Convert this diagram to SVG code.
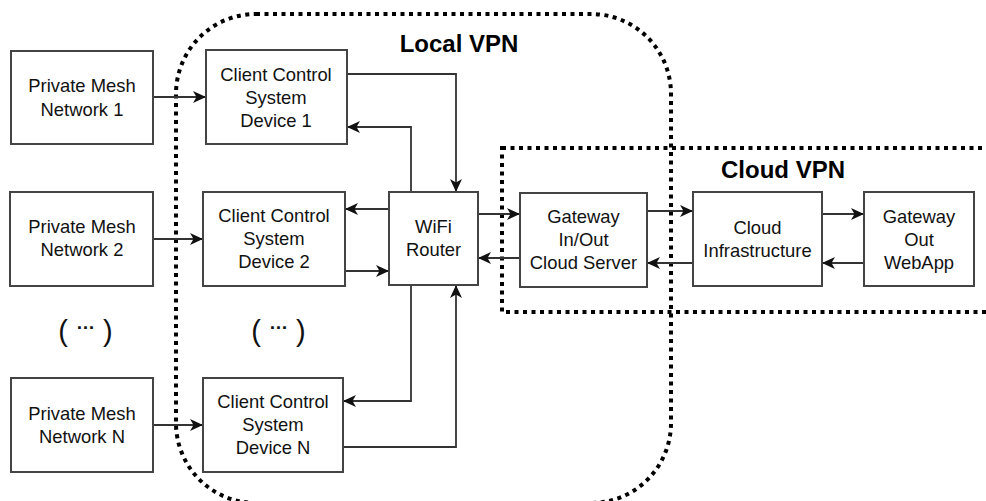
<svg xmlns="http://www.w3.org/2000/svg" width="986" height="501" viewBox="0 0 986 501">
<defs>
<style>
.box{fill:#fff;stroke:#444;stroke-width:2}
.lbl{font-family:"Liberation Sans",Arial,sans-serif;font-size:18.4px;fill:#111;text-anchor:middle}
.title{font-family:"Liberation Sans",Arial,sans-serif;font-size:24px;font-weight:bold;fill:#000;text-anchor:middle}
.vpn{fill:none;stroke:#000;stroke-width:4;stroke-dasharray:4 4.5}
.edge{fill:none;stroke:#333;stroke-width:1.8}
.dots{font-family:"Liberation Sans",Arial,sans-serif;font-size:29px;fill:#111;text-anchor:middle}
.ell{font-size:19px;font-weight:bold}
</style>
<marker id="arr" markerUnits="userSpaceOnUse" markerWidth="14" markerHeight="13" refX="13" refY="6.5" orient="auto">
<path d="M0,0.5 L13,6.5 L0,12.5 L3.5,6.5 Z" fill="#111"/>
</marker>
</defs>
<rect width="986" height="501" fill="#fff"/>

<g id="local-vpn">
<rect class="vpn" x="176" y="14" width="495" height="489" rx="80" ry="80"/>
<text class="title" x="459" y="52">Local VPN</text>
</g>
<g id="cloud-vpn">
<rect class="vpn" x="502" y="148" width="500" height="164"/>
<text class="title" x="783" y="178">Cloud VPN</text>
</g>

<g id="connectors">
<path class="edge" marker-end="url(#arr)" d="M153,97 L206,97"/>
<path class="edge" marker-end="url(#arr)" d="M153,239 L203,239"/>
<path class="edge" marker-end="url(#arr)" d="M153,425 L203,425"/>
<path class="edge" marker-end="url(#arr)" d="M347,74 L456,74 L456,192"/>
<path class="edge" marker-end="url(#arr)" d="M411,192 L411,127 L347,127"/>
<path class="edge" marker-end="url(#arr)" d="M389,209 L345,209"/>
<path class="edge" marker-end="url(#arr)" d="M345,271 L389,271"/>
<path class="edge" marker-end="url(#arr)" d="M411,285 L411,401 L343,401"/>
<path class="edge" marker-end="url(#arr)" d="M343,447 L456,447 L456,285"/>
<path class="edge" marker-end="url(#arr)" d="M478,214 L520,214"/>
<path class="edge" marker-end="url(#arr)" d="M520,258 L478,258"/>
<path class="edge" marker-end="url(#arr)" d="M647,211 L693,211"/>
<path class="edge" marker-end="url(#arr)" d="M693,263 L647,263"/>
<path class="edge" marker-end="url(#arr)" d="M822,214 L864,214"/>
<path class="edge" marker-end="url(#arr)" d="M864,263 L822,263"/>
</g>

<g id="pmn1">
<rect class="box" x="11" y="51" width="142" height="93"/>
<text class="lbl"><tspan x="82" y="92">Private Mesh</tspan><tspan x="82" y="116">Network 1</tspan></text>
</g>
<g id="pmn2">
<rect class="box" x="10" y="192" width="143" height="94"/>
<text class="lbl"><tspan x="82" y="233">Private Mesh</tspan><tspan x="82" y="256">Network 2</tspan></text>
</g>
<g id="pmnN">
<rect class="box" x="11" y="378" width="142" height="94"/>
<text class="lbl"><tspan x="82" y="420">Private Mesh</tspan><tspan x="82" y="443">Network N</tspan></text>
</g>
<g id="ccs1">
<rect class="box" x="206" y="50" width="141" height="94"/>
<text class="lbl"><tspan x="276" y="81">Client Control</tspan><tspan x="276" y="104">System</tspan><tspan x="276" y="127">Device 1</tspan></text>
</g>
<g id="ccs2">
<rect class="box" x="203" y="192" width="142" height="94"/>
<text class="lbl"><tspan x="274" y="222">Client Control</tspan><tspan x="274" y="245">System</tspan><tspan x="274" y="268">Device 2</tspan></text>
</g>
<g id="ccsN">
<rect class="box" x="203" y="378" width="140" height="94"/>
<text class="lbl"><tspan x="273" y="408">Client Control</tspan><tspan x="273" y="431">System</tspan><tspan x="273" y="454">Device N</tspan></text>
</g>
<g id="dots1">
<text class="dots" x="85.5" y="341">( <tspan class="ell" dy="-12">…</tspan><tspan dy="12"> )</tspan></text>
</g>
<g id="dots2">
<text class="dots" x="278.5" y="341">( <tspan class="ell" dy="-12">…</tspan><tspan dy="12"> )</tspan></text>
</g>
<g id="wifi">
<rect class="box" x="389" y="192" width="89" height="93"/>
<text class="lbl"><tspan x="433.5" y="233">WiFi</tspan><tspan x="433.5" y="256">Router</tspan></text>
</g>
<g id="gateway">
<rect class="box" x="520" y="193" width="127" height="94"/>
<text class="lbl"><tspan x="583.5" y="223">Gateway</tspan><tspan x="583.5" y="246">In/Out</tspan><tspan x="583.5" y="269">Cloud Server</tspan></text>
</g>
<g id="cloud">
<rect class="box" x="693" y="192" width="129" height="94"/>
<text class="lbl"><tspan x="757.5" y="234">Cloud</tspan><tspan x="757.5" y="257">Infrastructure</tspan></text>
</g>
<g id="webapp">
<rect class="box" x="864" y="192" width="110" height="94"/>
<text class="lbl"><tspan x="919" y="223">Gateway</tspan><tspan x="919" y="246">Out</tspan><tspan x="919" y="269">WebApp</tspan></text>
</g>
</svg>
